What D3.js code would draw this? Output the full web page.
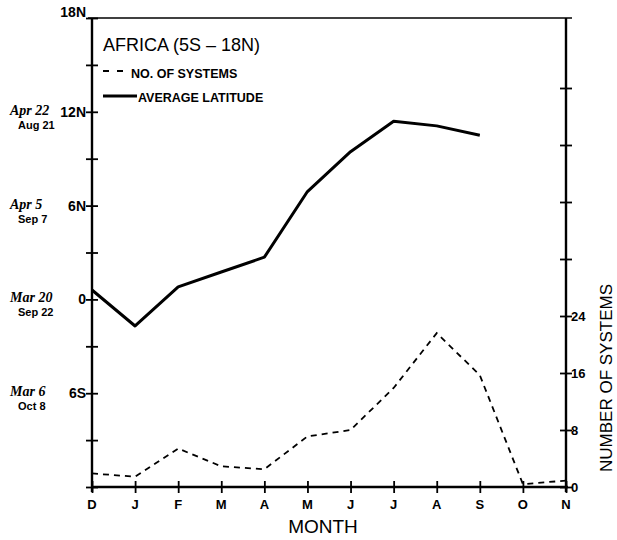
<!DOCTYPE html>
<html>
<head>
<meta charset="utf-8">
<script src="https://cdn.jsdelivr.net/npm/d3@7"></script>
<style>
  html, body { margin: 0; padding: 0; background: #fff; }
  svg { display: block; }
</style>
</head>
<body>
<svg id="chart" width="617" height="540"></svg>
<script>
// ---- data ----
const months = ["D","J","F","M","A","M","J","J","A","S","O","N"];
const latitude = [0.6, -1.7, 0.8, 1.75, 2.7, 6.9, 9.45, 11.4, 11.1, 10.5]; // D..S
const systems = [1.9, 1.45, 5.4, 2.9, 2.5, 7.1, 8.0, 13.9, 21.6, 15.7, 0.4, 0.9];
const latTicks = [18, 12, 6, 0, -6];
const latTickLabels = ["18N", "12N", "6N", "0", "6S"];
const latMinorTicks = [18, 15, 12, 9, 6, 3, 0, -3, -6, -9, -12];
const sysTicks = [0, 8, 16, 24, 32, 40, 48, 56];
const sysTickLabels = ["0", "8", "16", "24"];
const dateValues = [12, 6, 0, -6];
const dateLine1 = ["Apr 22", "Apr 5", "Mar 20", "Mar 6"];
const dateLine2 = ["Aug 21", "Sep 7", "Sep 22", "Oct 8"];
const titleText = "AFRICA (5S \u2013 18N)";
const legendLabels = ["NO. OF SYSTEMS", "AVERAGE LATITUDE"];

// ---- layout ----
const L = 92, R = 566, T = 18, B = 487;
const svg = d3.select("#chart");
const x = d3.scaleLinear().domain([0, months.length - 1]).range([L, R]);
const yL = d3.scaleLinear().domain([-12, 18]).range([B, T]);
const yR = d3.scaleLinear().domain([0, 24]).range([B, 316]);

const narrowBold = "'Liberation Sans Narrow', 'Liberation Sans', Arial, sans-serif";
const sans = "'Liberation Sans', Arial, Helvetica, sans-serif";

// frame lines
svg.append("line").attr("x1", 88).attr("x2", 572).attr("y1", T).attr("y2", T)
  .attr("stroke", "#000").attr("stroke-width", 1.6);
svg.append("line").attr("x1", L).attr("x2", L).attr("y1", T).attr("y2", B + 5)
  .attr("stroke", "#000").attr("stroke-width", 2.4);
svg.append("line").attr("x1", R).attr("x2", R).attr("y1", T).attr("y2", B + 5)
  .attr("stroke", "#000").attr("stroke-width", 2.4);
svg.append("line").attr("x1", L).attr("x2", R + 2).attr("y1", B).attr("y2", B)
  .attr("stroke", "#000").attr("stroke-width", 2.4);

// left axis
const leftAxis = svg.append("g").attr("transform", `translate(${L},0)`)
  .call(d3.axisLeft(yL).tickValues(latMinorTicks).tickSize(6).tickFormat(""));
leftAxis.select(".domain").remove();
leftAxis.selectAll(".tick line").attr("x1", -6).attr("x2", 6)
  .attr("stroke", "#000").attr("stroke-width", 1.8);

svg.append("g").selectAll("text").data(latTicks).join("text")
  .attr("x", 86).attr("y", (d, i) => yL(d) + (i === 0 ? -1 : 5))
  .attr("text-anchor", "end")
  .attr("font-family", narrowBold).attr("font-weight", "bold").attr("font-size", 14)
  .text((d, i) => latTickLabels[i]);

// date annotations
const dg = svg.append("g");
dg.selectAll("text.d1").data(dateValues).join("text").attr("class", "d1")
  .attr("x", 10).attr("y", d => yL(d) + 3)
  .attr("font-family", "'Liberation Serif', 'Times New Roman', serif")
  .attr("font-weight", "bold").attr("font-style", "italic").attr("font-size", 14)
  .text((d, i) => dateLine1[i]);
dg.selectAll("text.d2").data(dateValues).join("text").attr("class", "d2")
  .attr("x", 18).attr("y", d => yL(d) + 17)
  .attr("font-family", sans).attr("font-weight", "bold").attr("font-size", 11)
  .text((d, i) => dateLine2[i]);

// right axis
const rightAxis = svg.append("g").attr("transform", `translate(${R},0)`)
  .call(d3.axisRight(yR).tickValues(sysTicks).tickSize(6).tickFormat(""));
rightAxis.select(".domain").remove();
rightAxis.selectAll(".tick line").attr("x1", -6).attr("x2", 6)
  .attr("stroke", "#000").attr("stroke-width", 1.8);
svg.append("g").selectAll("text").data(sysTicks.slice(0, sysTickLabels.length)).join("text")
  .attr("x", 571).attr("y", d => yR(d) + 5)
  .attr("font-family", narrowBold).attr("font-weight", "bold").attr("font-size", 13)
  .text((d, i) => sysTickLabels[i]);

svg.append("text")
  .attr("transform", "translate(612,378) rotate(-90)")
  .attr("text-anchor", "middle")
  .attr("font-family", sans).attr("font-size", 17)
  .text("NUMBER OF SYSTEMS");

// bottom axis
const bottomAxis = svg.append("g").attr("transform", `translate(0,${B})`)
  .call(d3.axisBottom(x).tickValues(d3.range(months.length)).tickSize(6).tickFormat(""));
bottomAxis.select(".domain").remove();
bottomAxis.selectAll(".tick line").attr("y1", -6).attr("y2", 6)
  .attr("stroke", "#000").attr("stroke-width", 1.8);
svg.append("g").selectAll("text").data(months).join("text")
  .attr("x", (d, i) => x(i)).attr("y", 509)
  .attr("text-anchor", "middle")
  .attr("font-family", narrowBold).attr("font-weight", "bold").attr("font-size", 13)
  .text(d => d);

svg.append("text").attr("x", 323).attr("y", 533)
  .attr("text-anchor", "middle")
  .attr("font-family", sans).attr("font-size", 19)
  .text("MONTH");

// series
const latLine = d3.line().x((d, i) => x(i)).y(d => yL(d));
svg.append("path").datum(latitude).attr("d", latLine)
  .attr("fill", "none").attr("stroke", "#000").attr("stroke-width", 3)
  .attr("stroke-linejoin", "round");

const sysLine = d3.line().x((d, i) => x(i)).y(d => yR(d));
svg.append("path").datum(systems).attr("d", sysLine)
  .attr("fill", "none").attr("stroke", "#000").attr("stroke-width", 1.8)
  .attr("stroke-dasharray", "6,5");

// legend
svg.append("text").attr("x", 103).attr("y", 51)
  .attr("font-family", sans).attr("font-size", 18)
  .text(titleText);
svg.append("line").attr("x1", 103).attr("x2", 126).attr("y1", 71).attr("y2", 71)
  .attr("stroke", "#000").attr("stroke-width", 1.8).attr("stroke-dasharray", "6,8");
svg.append("text").attr("x", 131).attr("y", 78)
  .attr("font-family", sans).attr("font-weight", "bold").attr("font-size", 12.5)
  .text(legendLabels[0]);
svg.append("line").attr("x1", 103).attr("x2", 137).attr("y1", 96).attr("y2", 96)
  .attr("stroke", "#000").attr("stroke-width", 3);
svg.append("text").attr("x", 138).attr("y", 102)
  .attr("font-family", sans).attr("font-weight", "bold").attr("font-size", 12.5)
  .text(legendLabels[1]);
</script>
</body>
</html>
